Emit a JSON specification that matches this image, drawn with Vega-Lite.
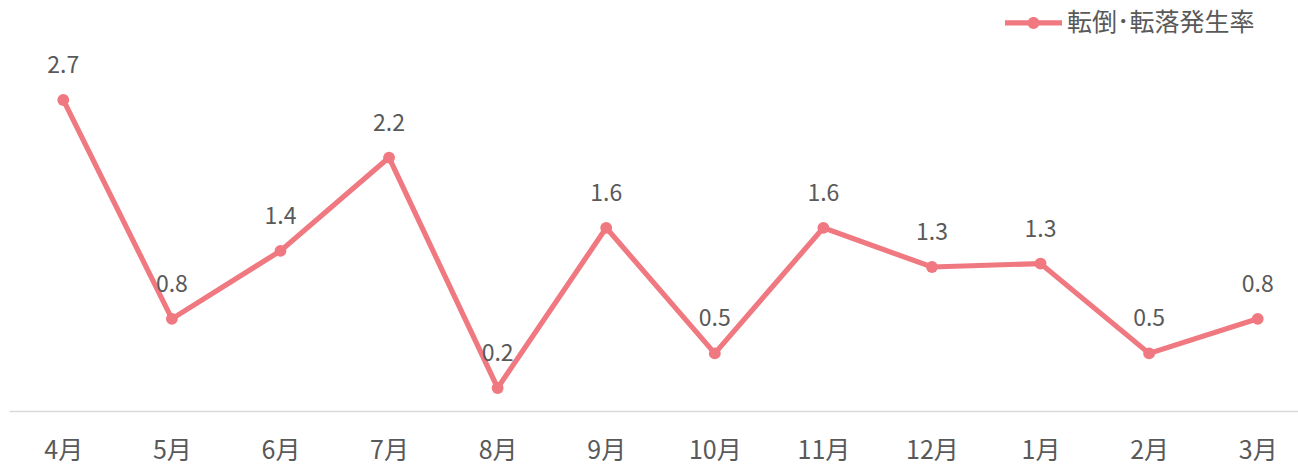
{
  "$schema": "https://vega.github.io/schema/vega-lite/v6.json",
  "autosize": "none",
  "width": 1303,
  "height": 345.6,
  "padding": {"left": 9, "top": 65.4, "right": 0, "bottom": 54},
  "background": "white",
  "config": {"view": {"stroke": null}, "font": "Noto Sans CJK JP"},
  "data": {"values": [
    {"month": "4月", "value": 2.7, "series": "転倒･転落発生率"},
    {"month": "5月", "value": 0.8, "series": "転倒･転落発生率"},
    {"month": "6月", "value": 1.39, "series": "転倒･転落発生率"},
    {"month": "7月", "value": 2.2, "series": "転倒･転落発生率"},
    {"month": "8月", "value": 0.2, "series": "転倒･転落発生率"},
    {"month": "9月", "value": 1.59, "series": "転倒･転落発生率"},
    {"month": "10月", "value": 0.5, "series": "転倒･転落発生率"},
    {"month": "11月", "value": 1.59, "series": "転倒･転落発生率"},
    {"month": "12月", "value": 1.25, "series": "転倒･転落発生率"},
    {"month": "1月", "value": 1.28, "series": "転倒･転落発生率"},
    {"month": "2月", "value": 0.5, "series": "転倒･転落発生率"},
    {"month": "3月", "value": 0.8, "series": "転倒･転落発生率"}
  ]},
  "encoding": {
    "x": {
      "field": "month", "type": "ordinal", "sort": null,
      "scale": {"padding": 0.5},
      "axis": {"title": null, "domainColor": "#d9d9d9", "domainWidth": 1.5, "ticks": false,
        "labelFontSize": 25, "labelColor": "#595959", "labelPadding": 27, "labelAngle": 0}
    },
    "y": {"field": "value", "type": "quantitative", "scale": {"domain": [0, 3], "nice": false}, "axis": null}
  },
  "layer": [
    {
      "mark": {"type": "line", "strokeWidth": 5.2, "point": {"size": 140, "filled": true}},
      "encoding": {
        "color": {
          "field": "series", "type": "nominal",
          "scale": {"range": ["#F07880"]},
          "legend": {
            "title": null, "orient": "none", "legendX": 996, "legendY": -71,
            "symbolType": "M-1,-0.09L1,-0.09L1,0.09L-1,0.09Z M0.21,0A0.21,0.21 0 1,1 -0.21,0A0.21,0.21 0 1,1 0.21,0Z",
            "symbolSize": 3249,
            "labelFontSize": 25, "labelColor": "#595959", "labelOffset": 5, "labelLimit": 400,
            "encode": {"symbols": {"update": {"fill": {"value": "#F07880"}, "strokeWidth": {"value": 0}}}}
          }
        }
      }
    },
    {
      "mark": {"type": "text", "dy": -34, "fontSize": 23, "color": "#595959"},
      "encoding": {"text": {"field": "value", "type": "quantitative", "format": ".1f"}}
    }
  ]
}
